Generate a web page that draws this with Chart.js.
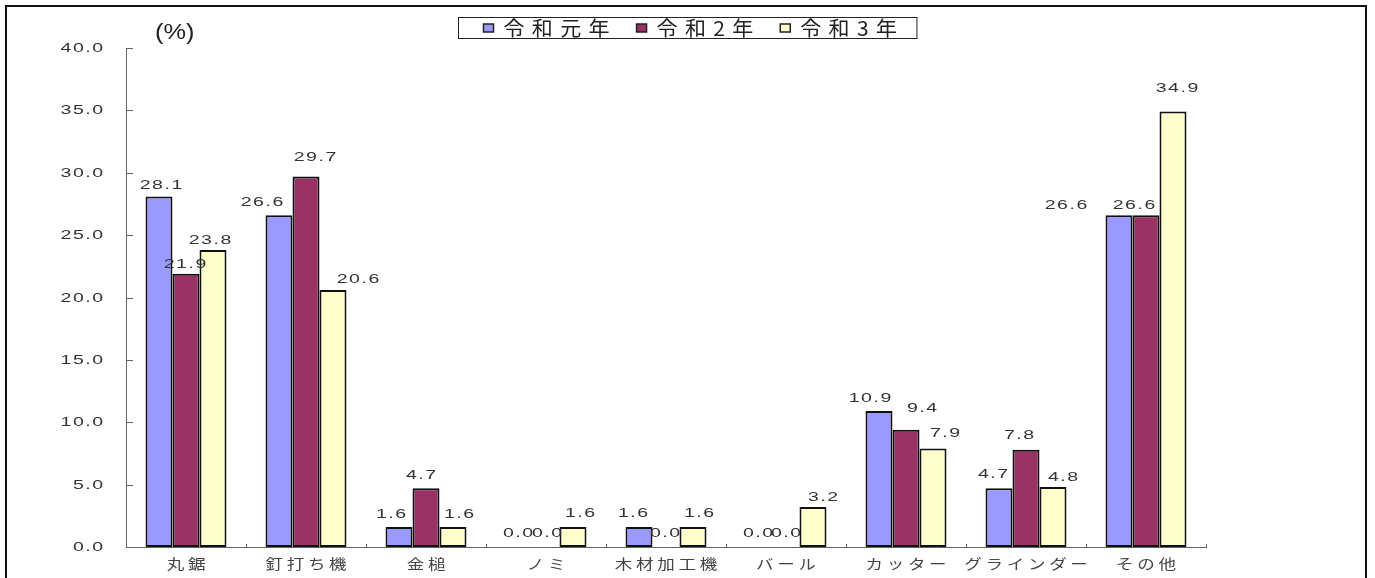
<!DOCTYPE html>
<html>
<head>
<meta charset="utf-8">
<script src="https://cdn.jsdelivr.net/npm/chart.js@4"></script>
<style>
  html, body { margin: 0; padding: 0; background: #fff; overflow: hidden; }
  #frame { position: absolute; left: 5px; top: 5px; width: 1362px; height: 600px; border: 2px solid #111; box-sizing: border-box; pointer-events: none; }
  #myCanvas { position: absolute; left: 0; top: 0; }
</style>
</head>
<body>
<canvas id="myCanvas" width="1375" height="578"></canvas>
<div id="frame"></div>
<script>
// data
let categories = ["丸鋸", "釘打ち機", "金槌", "ノミ", "木材加工機", "バール", "カッター", "グラインダー", "その他"]
let seriesNames = ["令和元年", "令和2年", "令和3年"]
let r1 = [28.1, 26.6, 1.6, 0.0, 1.6, 0.0, 10.9, 4.7, 26.6]
let r2 = [21.9, 29.7, 4.7, 0.0, 0.0, 0.0, 9.4, 7.8, 26.6]
let r3 = [23.8, 20.6, 1.6, 1.6, 1.6, 3.2, 7.9, 4.8, 34.9]
let yTicks = [0, 5, 10, 15, 20, 25, 30, 35, 40]

let colors = ["#9999ff", "#993366", "#ffffcc"]

// small label nudges (dataset,category): [dx, dy] to follow the original placement
let nudge = {
    "0,0": [2, 2], "1,0": [-1, 4], "2,0": [-3, 3],
    "0,1": [-17, 0], "1,1": [9, -6], "2,1": [25, 2],
    "0,2": [-8, 0], "1,2": [-5, 0], "2,2": [6, 0],
    "0,3": [-1, -1], "1,3": [1, -1], "2,3": [7, -1],
    "0,4": [-6, -1], "1,4": [-1, -1], "2,4": [6, -1],
    "0,5": [-1, -1], "1,5": [0, -1], "2,5": [10, 3],
    "0,6": [-9, 0], "1,6": [16, -8], "2,6": [12, -2],
    "0,7": [-6, -1], "1,7": [-7, -1], "2,7": [10, 3],
    "0,8": [-53, 3], "1,8": [-12, 3], "2,8": [4, -10]
}

let NUM = { font: "13px 'Liberation Sans', 'Noto Sans CJK JP'", color: "#333", sx: 1.5, ls: 1 }
let CAT = { font: "14px 'Noto Sans CJK JP'", color: "#444", sx: 1.25, ls: 3 }
let LEG = { font: "20px 'Noto Sans CJK JP'", color: "#222", sx: 1.05, ls: 7 }

function textWidth(ctx, s, st) {
    ctx.save()
    ctx.font = st.font
    ctx.letterSpacing = st.ls + "px"
    let w = (ctx.measureText(s).width - st.ls) * st.sx
    ctx.restore()
    return w
}

function drawText(ctx, s, x, y, st, align) {
    let w = textWidth(ctx, s, st)
    let left = x
    if (align == "center") left = x - w / 2
    if (align == "right") left = x - w
    ctx.save()
    ctx.font = st.font
    ctx.fillStyle = st.color
    ctx.letterSpacing = st.ls + "px"
    ctx.textAlign = "left"
    ctx.textBaseline = "middle"
    ctx.translate(left, y)
    ctx.scale(st.sx, 1)
    ctx.fillText(s, 0, 0)
    ctx.restore()
}

let extras = {
    id: "extras",
    afterDraw(chart) {
        let ctx = chart.ctx
        let area = chart.chartArea
        let xs = chart.scales.x
        let ys = chart.scales.y

        ctx.save()
        ctx.strokeStyle = "#666"
        ctx.lineWidth = 1
        // y ticks, inward
        yTicks.forEach(function (v) {
            let y = Math.round(ys.getPixelForValue(v)) + 0.5
            ctx.beginPath()
            ctx.moveTo(area.left, y)
            ctx.lineTo(area.left + 7, y)
            ctx.stroke()
            drawText(ctx, v.toFixed(1), area.left - 23, y, NUM, "right")
        })
        // x ticks at category borders
        let step = (area.right - area.left) / categories.length
        for (let i = 0; i <= categories.length; i++) {
            let x = Math.round(area.left + step * i) + 0.5
            ctx.beginPath()
            ctx.moveTo(x, area.bottom)
            ctx.lineTo(x, area.bottom - 3)
            ctx.stroke()
        }
        ctx.restore()

        // category labels
        categories.forEach(function (c, i) {
            drawText(ctx, c, xs.getPixelForValue(i), area.bottom + 17, CAT, "center")
        })

        // value labels
        chart.data.datasets.forEach(function (ds, d) {
            let meta = chart.getDatasetMeta(d)
            meta.data.forEach(function (bar, i) {
                let n = nudge[d + "," + i] || [0, 0]
                drawText(ctx, ds.data[i].toFixed(1), bar.x + n[0], bar.y - 13 + n[1], NUM, "center")
            })
        })

        // unit
        drawText(ctx, "(%)", 155, 33, { font: "22px 'Liberation Sans'", color: "#222", sx: 1.15, ls: 0 }, "left")

        // legend box
        let sq = 10, gapIn = 10, gapOut = 27
        let widths = seriesNames.map(function (s) { return textWidth(ctx, s, LEG) })
        let content = 0
        widths.forEach(function (w, i) { content += sq + gapIn + w + (i < widths.length - 1 ? gapOut : 0) })
        let boxW = content + 45
        let boxL = Math.round(chart.width / 2 - boxW / 2) + 0.5
        ctx.save()
        ctx.strokeStyle = "#222"
        ctx.lineWidth = 1
        ctx.strokeRect(boxL, 17.5, boxW, 21)
        let x = boxL + 25
        seriesNames.forEach(function (s, i) {
            ctx.fillStyle = colors[i]
            ctx.fillRect(x, 24, sq, 8)
            ctx.strokeStyle = "#222"
            ctx.lineWidth = 1.5
            ctx.strokeRect(x, 24, sq, 8)
            drawText(ctx, s, x + sq + gapIn, 28.5, LEG, "left")
            x += sq + gapIn + widths[i] + gapOut
        })
        ctx.restore()
    }
}

let ctx = document.querySelector("#myCanvas").getContext("2d")
let chart = new Chart(ctx, {
    type: "bar",
    data: {
        labels: categories,
        datasets: [r1, r2, r3].map(function (vals, i) {
            return {
                label: seriesNames[i],
                data: vals,
                backgroundColor: colors[i],
                borderColor: "#111",
                borderWidth: 2,
                borderSkipped: false,
                categoryPercentage: 0.675,
                barPercentage: 1.0
            }
        })
    },
    options: {
        responsive: false,
        animation: false,
        layout: { padding: { top: 48, right: 169, left: 0, bottom: 0 } },
        plugins: { legend: { display: false }, tooltip: { enabled: false } },
        scales: {
            x: {
                offset: true,
                grid: { display: false },
                ticks: { display: false },
                border: { display: true, color: "#666", width: 1 },
                afterFit: function (s) { s.height = 31 }
            },
            y: {
                min: 0,
                max: 40,
                ticks: { display: false, stepSize: 5 },
                grid: { display: false },
                border: { display: true, color: "#666", width: 1 },
                afterFit: function (s) { s.width = 126 }
            }
        }
    },
    plugins: [extras]
})
</script>
</body>
</html>
